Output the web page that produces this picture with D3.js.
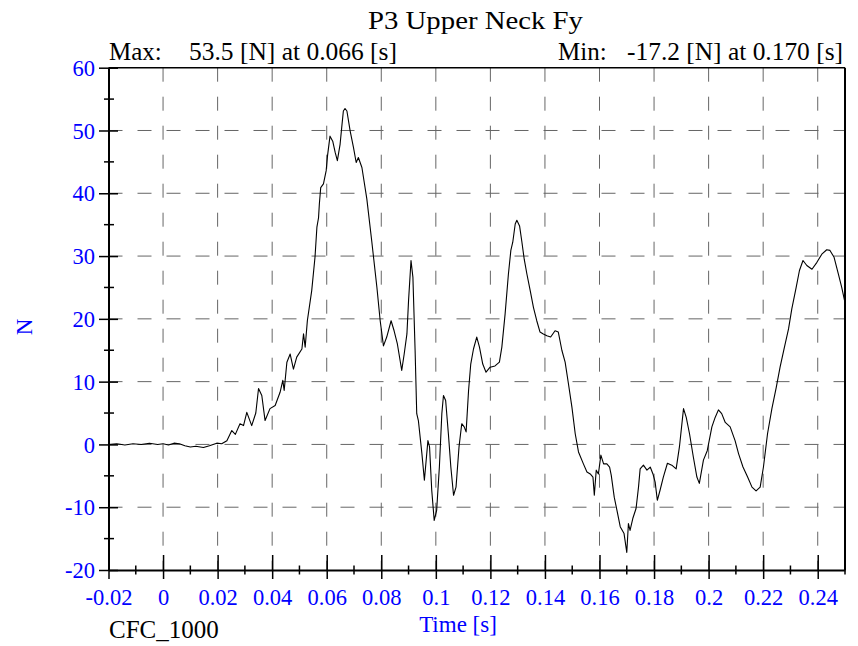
<html>
<head>
    <meta content="text/html;charset=utf-8" http-equiv="Content-Type"/>
    <style>
        body { margin: 0; background: #fff; }
        text { font-family: "Liberation Serif", "Times New Roman", serif; }
    </style>
</head>
<body>

<svg id="chart" width="858" height="646"></svg>

<script src="https://cdn.jsdelivr.net/npm/d3@7/dist/d3.min.js"></script>
<script>
    // values
    const times = [
        -0.020, -0.017, -0.014, -0.011, -0.008, -0.005, -0.002, 0.000, 0.002, 0.004,
        0.006, 0.008, 0.010, 0.012, 0.0148, 0.017, 0.0197, 0.0215, 0.0234, 0.0252,
        0.0265, 0.0282, 0.0295, 0.0307, 0.0325, 0.0340, 0.0350, 0.0362, 0.0374, 0.0392,
        0.0411, 0.0429, 0.0439, 0.0444, 0.0454, 0.0466, 0.0478, 0.0490, 0.0509, 0.0515,
        0.0521, 0.0529, 0.0545, 0.0557, 0.0564, 0.0570, 0.0573, 0.0578, 0.0588, 0.0598,
        0.0603, 0.0612, 0.0622, 0.0631, 0.0639, 0.0649, 0.0655, 0.0661, 0.0667, 0.0674,
        0.0686, 0.0698, 0.0708, 0.0716, 0.0729, 0.0747, 0.0765, 0.0784, 0.0796, 0.0808,
        0.0820, 0.0836, 0.0847, 0.0859, 0.0875, 0.0884, 0.0894, 0.0900, 0.0909, 0.0916,
        0.0924, 0.0930, 0.0936, 0.0949, 0.0958, 0.0971, 0.0977, 0.0985, 0.0994, 0.1003,
        0.1013, 0.1022, 0.1028, 0.1036, 0.1046, 0.1055, 0.1065, 0.1074, 0.1085, 0.1095,
        0.1104, 0.1111, 0.1120, 0.1128, 0.1138, 0.1150, 0.1160, 0.1172, 0.1184, 0.1199,
        0.1217, 0.1233, 0.1242, 0.1254, 0.1266, 0.1275, 0.1282, 0.1291, 0.1297, 0.1307,
        0.1315, 0.1324, 0.1334, 0.1346, 0.1358, 0.1370, 0.1382, 0.1394, 0.1407, 0.1421,
        0.1437, 0.1449, 0.1462, 0.1474, 0.1486, 0.1499, 0.1511, 0.1523, 0.1541, 0.1554,
        0.1566, 0.1576, 0.1581, 0.1588, 0.1596, 0.1605, 0.1615, 0.1627, 0.1637, 0.1643,
        0.1654, 0.1664, 0.1676, 0.1690, 0.1700, 0.1706, 0.1712, 0.1722, 0.1734, 0.1743,
        0.1749, 0.1761, 0.1774, 0.1786, 0.1796, 0.1804, 0.1812, 0.1822, 0.1834, 0.1849,
        0.1865, 0.1881, 0.1893, 0.1908, 0.1918, 0.1930, 0.1944, 0.1957, 0.1966, 0.1981,
        0.1995, 0.2012, 0.2024, 0.2036, 0.2048, 0.2061, 0.2079, 0.2097, 0.2110, 0.2126,
        0.2143, 0.2159, 0.2174, 0.2189, 0.2201, 0.2216, 0.2232, 0.2248, 0.2262, 0.2278,
        0.2293, 0.2305, 0.2321, 0.2333, 0.2346, 0.2360, 0.2379, 0.2397, 0.2415, 0.2433,
        0.2445, 0.2460, 0.2476, 0.2488, 0.2500
    ];
    const force = [
        0.0, 0.1, -0.1, 0.1, 0.0, 0.2, 0.0, 0.1, -0.1, 0.2,
        0.1, -0.2, -0.4, -0.3, -0.5, -0.2, 0.2, 0.1, 0.6, 2.2,
        1.6, 3.3, 3.0, 5.1, 3.0, 5.0, 8.9, 7.8, 3.8, 5.7,
        6.2, 8.3, 10.2, 8.6, 13.1, 14.4, 12.0, 13.9, 15.2, 17.6,
        15.5, 19.7, 24.5, 29.8, 34.6, 36.1, 38.3, 40.9, 41.5, 43.6,
        46.0, 49.1, 48.3, 46.5, 45.2, 47.8, 50.5, 53.1, 53.5, 53.1,
        49.9, 47.3, 44.9, 45.7, 44.1, 39.1, 32.4, 25.0, 19.7, 15.7,
        17.1, 19.7, 18.1, 16.0, 11.8, 14.4, 17.6, 22.9, 29.3, 26.6,
        15.0, 4.9, 3.8, -1.5, -5.7, 0.6, -0.4, -7.3, -12.1, -10.5,
        -3.6, 4.9, 7.8, 7.0, 1.7, -3.6, -8.1, -6.8, -0.4, 3.3,
        2.8, 2.0, 8.6, 12.8, 15.2, 17.1, 15.5, 12.8, 11.5, 12.3,
        12.5, 13.1, 15.5, 20.8, 27.1, 30.9, 32.2, 35.1, 35.7, 34.8,
        32.4, 29.5, 27.1, 24.5, 21.8, 19.7, 17.9, 17.6, 17.3, 17.1,
        18.1, 17.9, 15.0, 13.1, 9.7, 5.9, 1.7, -1.2, -3.1, -4.4,
        -4.7, -5.2, -8.1, -4.1, -4.7, -1.7, -3.1, -3.1, -3.6, -4.9,
        -8.4, -10.5, -13.1, -14.2, -17.2, -12.6, -13.7, -11.8, -10.2, -6.8,
        -3.9, -3.3, -4.1, -3.6, -4.7, -6.0, -8.9, -7.3, -5.2, -3.0,
        -3.3, -3.9, -0.4, 5.7, 4.3, 1.7, -2.0, -5.2, -6.2, -2.5,
        -1.0, 2.8, 4.3, 5.5, 4.9, 3.5, 2.8, 0.6, -1.5, -3.6,
        -5.2, -6.8, -7.4, -6.8, -3.6, 1.7, 5.7, 9.1, 12.3, 15.5,
        18.4, 21.6, 25.0, 27.7, 29.3, 28.5, 27.9, 29.0, 30.3, 31.0,
        30.9, 29.8, 27.1, 25.0, 22.6
    ];

    const xTicks = [-0.02, 0, 0.02, 0.04, 0.06, 0.08, 0.1, 0.12, 0.14, 0.16, 0.18, 0.2, 0.22, 0.24];
    const xTickLabels = ["-0.02", "0", "0.02", "0.04", "0.06", "0.08", "0.1", "0.12", "0.14", "0.16", "0.18", "0.2", "0.22", "0.24"];
    const xMinor = [-0.01, 0.01, 0.03, 0.05, 0.07, 0.09, 0.11, 0.13, 0.15, 0.17, 0.19, 0.21, 0.23, 0.25];
    const yTicks = [-20, -10, 0, 10, 20, 30, 40, 50, 60];
    const yTickLabels = ["-20", "-10", "0", "10", "20", "30", "40", "50", "60"];
    const yMinor = [-15, -5, 5, 15, 25, 35, 45, 55];

    const title = "P3 Upper Neck Fy";
    const maxLabel = "Max:", maxText = "53.5 [N] at 0.066 [s]";
    const minLabel = "Min:", minText = "-17.2 [N] at 0.170 [s]";
    const xTitle = "Time [s]", yTitle = "N", filterText = "CFC_1000";

    const plotLeft = 108.5, plotRight = 845, plotTop = 67.7, plotBottom = 570;
    const blue = "#0000ff";

    const x = d3.scaleLinear().domain([-0.02, 0.25]).range([plotLeft, plotRight]);
    const y = d3.scaleLinear().domain([-20, 60]).range([plotBottom, plotTop]);

    const svg = d3.select("#chart");

    // grid
    const grid = svg.append("g")
        .attr("stroke", "#666")
        .attr("stroke-width", 1)
        .attr("stroke-dasharray", "14,15");
    grid.selectAll("line.v")
        .data(xTicks.slice(1))
        .enter().append("line")
        .attr("class", "v")
        .attr("x1", d => x(d)).attr("x2", d => x(d))
        .attr("y1", plotTop).attr("y2", plotBottom);
    grid.selectAll("line.h")
        .data(yTicks.slice(1, -1))
        .enter().append("line")
        .attr("class", "h")
        .attr("x1", plotLeft).attr("x2", plotRight)
        .attr("y1", d => y(d)).attr("y2", d => y(d));

    // trace
    const line = d3.line()
        .x((d, i) => x(times[i]))
        .y(d => y(d));
    svg.append("path")
        .datum(force)
        .attr("fill", "none")
        .attr("stroke", "#000")
        .attr("stroke-width", 1.1)
        .attr("stroke-linejoin", "round")
        .attr("d", line);

    // frame
    svg.append("line").attr("x1", plotLeft).attr("x2", plotRight).attr("y1", plotTop).attr("y2", plotTop)
        .attr("stroke", "#000").attr("stroke-width", 1.5);
    svg.append("line").attr("x1", plotRight).attr("x2", plotRight).attr("y1", plotTop).attr("y2", plotBottom)
        .attr("stroke", "#000").attr("stroke-width", 2);

    // x axis
    const xAxis = svg.append("g")
        .attr("transform", `translate(0,${plotBottom})`)
        .call(d3.axisBottom(x)
            .tickValues(xTicks)
            .tickFormat((d, i) => xTickLabels[i])
            .tickSizeOuter(0)
            .tickSizeInner(9)
            .tickPadding(26));
    xAxis.select(".domain").attr("stroke-width", 2);
    xAxis.selectAll(".tick line").attr("y1", -15).attr("y2", 9).attr("stroke-width", 1.5);
    xAxis.selectAll(".tick text")
        .attr("fill", blue)
        .attr("font-size", 22.5)
        .attr("font-family", "Liberation Serif")
        .attr("dy", 0);
    xAxis.selectAll("line.minor")
        .data(xMinor)
        .enter().append("line")
        .attr("class", "minor")
        .attr("x1", d => x(d)).attr("x2", d => x(d))
        .attr("y1", -4.5).attr("y2", 4.5)
        .attr("stroke", "#000").attr("stroke-width", 1.5);

    // y axis
    const yAxis = svg.append("g")
        .attr("transform", `translate(${plotLeft},0)`)
        .call(d3.axisLeft(y)
            .tickValues(yTicks)
            .tickFormat((d, i) => yTickLabels[i])
            .tickSizeOuter(0)
            .tickSizeInner(9.5)
            .tickPadding(4));
    yAxis.select(".domain").attr("stroke-width", 2);
    yAxis.selectAll(".tick line").attr("x1", -9.5).attr("x2", 9.5).attr("stroke-width", 1.5);
    yAxis.selectAll(".tick text")
        .attr("fill", blue)
        .attr("font-size", 22.5)
        .attr("font-family", "Liberation Serif")
        .attr("dy", "0.34em");
    yAxis.selectAll("line.minor")
        .data(yMinor)
        .enter().append("line")
        .attr("class", "minor")
        .attr("y1", d => y(d)).attr("y2", d => y(d))
        .attr("x1", -4.5).attr("x2", 5.5)
        .attr("stroke", "#000").attr("stroke-width", 1.5);

    // texts
    svg.append("text")
        .attr("x", 368).attr("y", 28.5)
        .attr("font-size", 26)
        .attr("textLength", 215).attr("lengthAdjust", "spacingAndGlyphs")
        .text(title);
    svg.append("text").attr("x", 109).attr("y", 60).attr("font-size", 25).text(maxLabel);
    svg.append("text").attr("x", 189).attr("y", 60).attr("font-size", 25)
        .attr("textLength", 208).attr("lengthAdjust", "spacingAndGlyphs").text(maxText);
    svg.append("text").attr("x", 558).attr("y", 60).attr("font-size", 25).text(minLabel);
    svg.append("text").attr("x", 627).attr("y", 60).attr("font-size", 25)
        .attr("textLength", 216).attr("lengthAdjust", "spacingAndGlyphs").text(minText);
    svg.append("text")
        .attr("x", 458).attr("y", 632)
        .attr("text-anchor", "middle")
        .attr("fill", blue).attr("font-size", 23)
        .text(xTitle);
    svg.append("text")
        .attr("transform", "translate(32,327) rotate(-90)")
        .attr("text-anchor", "middle")
        .attr("fill", blue).attr("font-size", 23)
        .text(yTitle);
    svg.append("text")
        .attr("x", 109).attr("y", 638)
        .attr("font-size", 25)
        .text(filterText);
</script>

</body>
</html>
